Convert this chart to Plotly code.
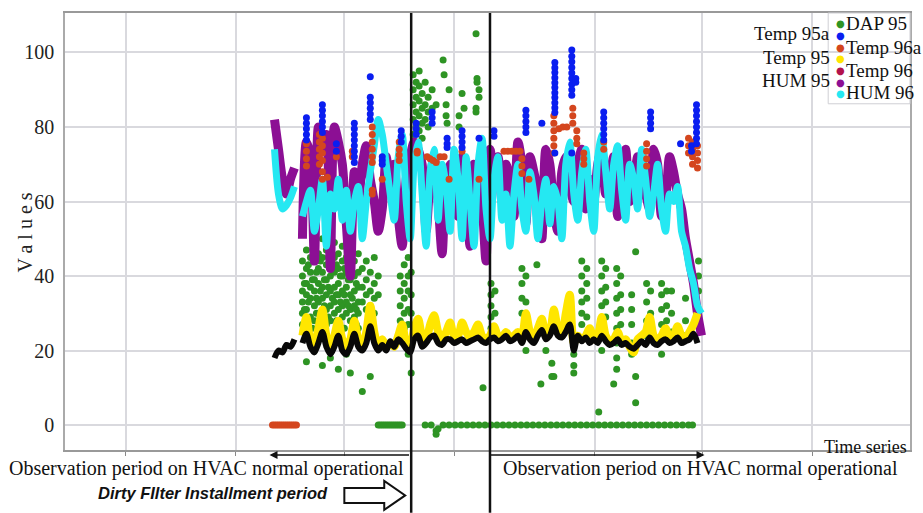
import plotly.graph_objects as go

# ---------------- data (time index, values) ----------------
t_line = list(range(275, 707, 4))  # regular time index of the line series

hum96 = [74, 62, 58, 59, 61, 64, None, 56, 60, 63, 52, 58, 66, 48, 62, 58, 66, 55, 63, 52,
         60, 64, 50, 60, 68, 75, 82, 78, 70, 62, 55, 72, 78, 60, 50, 70, 76, 62, 48, 68,
         74, 55, 70, 64, 52, 74, 66, 50, 72, 60, 48, 70, 77, 58, 50, 66, 72, 55, 62, 48,
         62, 70, 58, 52, 68, 62, 50, 60, 66, 54, 64, 60, 50, 70, 76, 62, 55, 68, 74, 60,
         52, 72, 78, 68, 58, 70, 75, 63, 55, 70, 66, 58, 74, 66, 56, 62, 70, 58, 52, 62,
         60, 64, 52, 48, 42, 38, 32, 30]

hum95 = [82, 74, 66, 62, 66, 69, None, 50, 76, 72, 44, 80, 74, 78, 42, 80, 76, 70, 54, 40,
         68, 60, 70, 75, 66, 60, 52, 58, 72, 64, 70, 56, 48, 66, 72, 76, 74, 70, 52, 66,
         72, 60, 46, 66, 70, 62, 56, 72, 64, 48, 70, 68, 60, 44, 74, 68, 72, 60, 70, 66,
         56, 76, 70, 54, 72, 68, 62, 50, 74, 70, 58, 52, 68, 72, 64, 60, 70, 74, 58, 66,
         60, 70, 74, 62, 66, 72, 56, 68, 74, 60, 64, 72, 66, 62, 58, 74, 70, 56, 60, 72,
         68, 62, 58, 50, 44, 38, 30, 24]

temp95 = [None, None, None, None, None, None, None, 24, 29, 23, 22, 26, 31, 24, 21, 24, 28, 23, 21, 23,
          28, 23, 21, 25, 32, 25, 21, 23, 21, 22, 21, 24, 27, 22, 21, 26, 28.5, 24, 23, 27,
          29.5, 25, 23, 25, 27.5, 24, 24, 27.5, 25, 23.5, 25, 27, 24, 23, 24, 26.5, 24, 23.5, 25, 23.5,
          24, 25, 24, 30, 25, 23, 26, 28.5, 24, 25, 31, 26, 24, 30, 35, 22, 24, 23, 24, 26,
          23, 24, 29, 24, 22.5, 23, 25, 22.5, 23, 21, 19.5, 23, 24, 25, 29, 24, 22.5, 24, 26, 23,
          24, 26.5, 24, 23, 25, 27, 30, None]

temp96 = [18, 20, 19.5, 21.5, 21, 23, None, 22, 24.5, 21, 19.5, 22, 25, 21, 19, 21, 24, 20, 19, 21,
          24.5, 21, 20, 22, 26.5, 22, 20, 21.5, 20, 22.5, 21, 23, 22, 20.5, 19.5, 23, 24, 21, 22, 23.5,
          24, 22, 21.5, 23, 23, 22, 22.5, 23, 22, 22.5, 23, 23.5, 22.5, 22, 23, 23.5, 22.5, 23, 24, 22.5,
          23, 24, 22, 25, 23, 22, 24, 25.5, 23, 24, 26.5, 24, 23.5, 25, 27, 20, 24, 22.5, 23.5, 22,
          23, 22, 24, 22.5, 21.5, 22, 23, 21.5, 22, 21, 20.5, 21.5, 22.5, 21.5, 23.5, 22, 21.5, 22.5, 23, 22,
          22.5, 23.5, 22, 22.5, 23, 24.5, 22, None]

temp95a_stacks = [
    (307, [82.5, 81, 79.5, 78, 76.5]),
    (323, [86, 84.5, 83, 81.5, 80, 78.5]),
    (337, [75.5, 73.5]),
    (355, [81, 79.5, 78, 76.5, 75, 73.5, 72, 70.5]),
    (371, [93.5, 88, 86.5, 85, 83.5, 82]),
    (383, [72, 71, 70]),
    (402, [79, 77.5, 76]),
    (417, [81, 79.5, 78]),
    (433, [84, 82.5, 81]),
    (448, [77, 75.5, 74.5]),
    (463, [79, 77.5, 76, 74.5]),
    (480, [77]),
    (495, [79, 77.5]),
    (527, [84.5, 83, 81.5, 80, 78.5]),
    (543, [81]),
    (556, [97.3, 95.9, 94.6, 93.2, 91.9, 90.6, 89.2, 87.9, 86.5, 85.2, 83.9, 73]),
    (573, [100.7, 99, 97.5, 96, 94.5, 93, 91.5, 90, 88.5, 73]),
    (577, [93, 92]),
    (605, [84, 82.5, 81, 79.5, 78, 76.5]),
    (652, [84, 82.5, 81, 79.5]),
    (682, [75.5]),
    (693, [75, 73.5]),
    (698, [86, 84.5, 83, 81.5, 80, 78.5, 77, 75.5]),
]

temp96a_stacks = [
    (273, [0]), (275, [0]), (277, [0]), (279, [0]), (281, [0]), (283, [0]), (285, [0]),
    (287, [0]), (289, [0]), (291, [0]), (293, [0]), (295, [0]), (297, [0]),
    (307, [75.5, 73.5, 71.5, 69.5]),
    (320, [78, 76, 74, 72, 70]),
    (323, [77, 75, 73, 71, 68, 66]),
    (328, [66.5]),
    (337, [72]),
    (353, [73.5, 72]),
    (373, [80, 78, 76, 74, 72, 70.5, 63, 62]),
    (383, [66]),
    (400, [76, 74, 72.5, 71]),
    (418, [73.5, 73]),
    (428, [72]), (431, [71.5]), (434, [71]), (437, [70.5]), (441, [72]), (445, [72]),
    (450, [66]),
    (463, [73.5]),
    (480, [66]),
    (505, [73.5]), (509, [73.5]), (513, [73.5]), (517, [73.5]), (521, [73.5]),
    (523, [71.5, 69.5, 67.5]),
    (530, [66]),
    (555, [83, 81, 79, 77, 75, 73]),
    (560, [79.5]), (564, [80]), (568, [80]),
    (574, [85, 83, 81]),
    (578, [79, 77, 75.5]),
    (585, [73, 71.5, 70]),
    (605, [76, 74]),
    (648, [75.5, 73.5, 71.5, 69.5]),
    (690, [77, 75, 73]),
    (694, [76, 74, 72, 70]),
    (699, [75, 73, 71, 69]),
]

dap_cluster_left = [
    (303, [44, 40, 36, 33, 30, 27]),
    (305, [38, 31]),
    (307, [47, 42, 38, 35, 31, 26, 17]),
    (309, [43, 33]),
    (311, [45, 41, 37, 34, 29]),
    (313, [39, 26]),
    (315, [48, 44, 39, 36, 32, 28, 20]),
    (317, [41, 34, 30]),
    (319, [46, 42, 38, 33, 30]),
    (321, [44, 36, 27]),
    (323, [50, 45, 41, 37, 34, 29, 16]),
    (325, [39, 32]),
    (327, [47, 43, 39, 35, 31, 27]),
    (329, [45, 37, 29]),
    (331, [44, 40, 36, 32, 28, 18]),
    (333, [42, 34]),
    (335, [49, 45, 41, 37, 33, 30]),
    (337, [43, 35, 28]),
    (339, [46, 42, 38, 35, 31, 27, 15]),
    (341, [40, 33]),
    (343, [48, 44, 40, 36, 32, 29]),
    (345, [42, 35, 26]),
    (347, [45, 41, 37, 33, 30, 19]),
    (349, [39, 32]),
    (351, [47, 43, 39, 35, 31, 28, 14]),
    (353, [41, 34]),
    (355, [44, 40, 36, 32, 29]),
    (357, [38, 31, 27]),
    (359, [46, 41, 37, 33, 30, 26]),
    (363, [42, 37, 33, 9]),
    (367, [44, 39, 35, 31]),
    (371, [41, 36, 32, 13]),
    (375, [45, 38, 34, 30]),
    (379, [40, 35]),
    (401, [40, 36, 32, 28]),
    (405, [43, 38, 34, 30, 26]),
    (409, [45, 40, 36, 31, 27, 19]),
    (412, [41, 35, 30, 14]),
]

dap_cluster_dirty = [
    (414, [94, 90, 86, 82, 78]),
    (417, [92, 88, 84, 80, 76]),
    (420, [95, 91, 87, 83, 79]),
    (423, [89, 85, 81, 77]),
    (426, [92, 86, 82]),
    (429, [88, 84, 80]),
    (433, [90, 85]),
    (437, [86]),
    (444, [98]), (445, [94]), (447, [86, 83]), (448, [81]), (450, [90]),
    (460, [83, 80]), (463, [89]), (465, [85]),
    (477, [105, 85, 84]), (478, [93, 92]), (480, [90, 88]),
    (484, [10]),
]

dap_cluster_right = [
    (492, [38, 35, 32, 29, 26]),
    (496, [36, 30, 24]),
    (523, [42, 38, 34, 30]),
    (527, [40, 33, 20]),
    (538, [43]), (542, [11]), (547, [20]), (553, [16.6, 13]), (555, [13]),
    (575, [22, 19, 16, 14]),
    (583, [44, 40, 36, 33, 30, 27]),
    (588, [42, 38, 34, 29]),
    (600, [3.5]),
    (603, [44, 40, 36, 32, 28, 24, 20]),
    (607, [42, 37, 33, 29]),
    (615, [11]),
    (618, [42, 38, 34, 30, 26, 22, 18, 15]),
    (622, [40, 35, 31, 27, 23]),
    (633, [35, 31, 27, 22, 19]),
    (637, [46.5, 13, 6]),
    (648, [38, 33, 28, 24]),
    (652, [36, 30]),
    (663, [38, 35, 31, 27, 23, 19]),
    (668, [36, 32, 28, 24]),
    (673, [36, 30, 25]),
    (687, [34, 28, 24]),
    (700, [44, 40, 36]),
]

dap_zero_t = [379, 381, 383, 385, 387, 389, 391, 393, 395, 397, 399, 401, 403,
              426, 432, 437, 437, 439, 444, 450, 456, 462, 468, 474, 480, 486, 492, 498, 504,
              510, 516, 522, 528, 534, 540, 546, 552, 558, 564, 570, 576, 582, 588, 594,
              600, 606, 612, 618, 624, 630, 636, 642, 648, 654, 660, 666, 672, 678, 684, 690, 694]
dap_zero_v = [0, 0, 0, 0, 0, 0, 0, 0, 0, 0, 0, 0, 0,
              0, 0, -1.5, -2.5, -1, 0, 0, 0, 0, 0, 0, 0, 0, 0, 0, 0,
              0, 0, 0, 0, 0, 0, 0, 0, 0, 0, 0, 0, 0, 0, 0,
              0, 0, 0, 0, 0, 0, 0, 0, 0, 0, 0, 0, 0, 0, 0, 0, 0]

y_ticks = [0, 20, 40, 60, 80, 100]
grid_t = [126, 236, 345, 455, 596, 704, 814]
period_bounds = [412, 491]

assert len(hum96) == len(t_line) and len(hum95) == len(t_line)
assert len(temp95) == len(t_line) and len(temp96) == len(t_line)
assert len(dap_zero_t) == len(dap_zero_v)


def flatten(stacks):
    xs, ys = [], []
    for t, vals in stacks:
        for v in vals:
            xs.append(t)
            ys.append(v)
    return xs, ys


dap_t, dap_v = flatten(dap_cluster_left + dap_cluster_dirty + dap_cluster_right)
dap_t += dap_zero_t
dap_v += dap_zero_v
t95a_t, t95a_v = flatten(temp95a_stacks)
t96a_t, t96a_v = flatten(temp96a_stacks)

C_GREEN = "#2e9424"
C_BLUE = "#0a1ef0"
C_RED = "#d4461e"
C_YELLOW = "#ffe600"
C_CRIMSON = "#b3124c"
C_PURPLE = "#8c0f94"
C_CYAN = "#25e8f2"
C_BLACK = "#080808"

fig = go.Figure()
fig.add_trace(go.Scatter(x=dap_t, y=dap_v, mode="markers", name="DAP 95",
                         marker=dict(color=C_GREEN, size=7)))
fig.add_trace(go.Scatter(x=t_line, y=hum95, mode="lines", name="HUM 95",
                         line=dict(color=C_PURPLE, width=9, shape="spline", smoothing=0.8)))
fig.add_trace(go.Scatter(x=t_line, y=hum96, mode="lines", name="HUM 96",
                         line=dict(color=C_CYAN, width=7, shape="spline", smoothing=0.8)))
fig.add_trace(go.Scatter(x=t96a_t, y=t96a_v, mode="markers", name="Temp 96a",
                         marker=dict(color=C_RED, size=7)))
fig.add_trace(go.Scatter(x=t95a_t, y=t95a_v, mode="markers", name="Temp 95a",
                         marker=dict(color=C_BLUE, size=7)))
fig.add_trace(go.Scatter(x=t_line, y=temp95, mode="lines", name="Temp 95",
                         line=dict(color=C_YELLOW, width=8, shape="spline", smoothing=0.8)))
fig.add_trace(go.Scatter(x=t_line, y=temp96, mode="lines", name="Temp 96",
                         line=dict(color=C_BLACK, width=6, shape="spline", smoothing=0.8)))

W, H = 923, 513
ML, MR, MT, MB = 65, 11, 12, 63
PW, PH = W - ML - MR, H - MT - MB


def X(px):
    return (px - ML) / PW


def Y(py):
    return (H - MB - py) / PH


serif = "Liberation Serif"
ann = []
# legend (custom, labels on both sides of a dot column)
legend_items = [
    ("DAP 95", C_GREEN, "right", 23, 23),
    ("Temp 95a", C_BLUE, "left", 35, 33),
    ("Temp 96a", C_RED, "right", 47, 47),
    ("Temp 95", C_YELLOW, "left", 58, 57),
    ("Temp 96", C_CRIMSON, "right", 70, 70),
    ("HUM 95", C_PURPLE, "left", 82, 80),
    ("HUM 96", C_CYAN, "right", 93, 92),
]
for label, col, side, dot_y, txt_y in legend_items:
    ann.append(dict(x=X(842), y=Y(dot_y), xref="paper", yref="paper", text="●", showarrow=False,
                    font=dict(family="DejaVu Sans", size=10, color=col), xanchor="center", yanchor="middle"))
    if side == "right":
        ann.append(dict(x=X(846), y=Y(txt_y), xref="paper", yref="paper", text=label, showarrow=False,
                        font=dict(family=serif, size=19, color="#111"), xanchor="left", yanchor="middle"))
    else:
        ann.append(dict(x=X(834), y=Y(txt_y), xref="paper", yref="paper", text=label, showarrow=False,
                        font=dict(family=serif, size=19, color="#111"), xanchor="right", yanchor="middle"))

ann += [
    dict(x=X(25), y=Y(232), xref="paper", yref="paper", text="V a l u e s", textangle=-90,
         showarrow=False, font=dict(family=serif, size=20, color="#222"), xanchor="center", yanchor="middle"),
    dict(x=X(911), y=Y(447), xref="paper", yref="paper", text="Time series", showarrow=False,
         font=dict(family=serif, size=18, color="#111"), xanchor="right", yanchor="middle"),
    dict(x=X(7), y=Y(469), xref="paper", yref="paper", text="Observation period on HVAC normal operational",
         showarrow=False, font=dict(family=serif, size=20, color="#111"), xanchor="left", yanchor="middle"),
    dict(x=X(502), y=Y(469), xref="paper", yref="paper", text="Observation period on HVAC normal operational",
         showarrow=False, font=dict(family=serif, size=20, color="#111"), xanchor="left", yanchor="middle"),
    dict(x=X(96), y=Y(493), xref="paper", yref="paper", text="<b><i>Dirty FIlter Installment period</i></b>",
         showarrow=False, font=dict(family="Liberation Sans", size=16.5, color="#111"), xanchor="left", yanchor="middle"),
    dict(x=X(270), y=Y(455), xref="paper", yref="paper", text="", showarrow=True, ax=141, ay=0,
         arrowhead=2, arrowsize=1, arrowwidth=1.6, arrowcolor="#111"),
    dict(x=X(706), y=Y(455), xref="paper", yref="paper", text="", showarrow=True, ax=-215, ay=0,
         arrowhead=2, arrowsize=1, arrowwidth=1.6, arrowcolor="#111"),
]

shapes = []
for b in period_bounds:
    shapes.append(dict(type="line", xref="x", yref="paper", x0=b, x1=b, y0=1, y1=Y(H),
                       line=dict(color="#111", width=2.5)))
# legend box
shapes.append(dict(type="rect", xref="paper", yref="paper", x0=X(830), x1=1, y0=Y(103), y1=1,
                   line=dict(color="#cfcfd4", width=1), fillcolor="rgba(0,0,0,0)"))
# hollow block arrow
pts = [(345, 488), (385, 488), (385, 481), (406, 495.5), (385, 510), (385, 503), (345, 503)]
path = "M " + " L ".join(f"{X(a):.5f},{Y(b):.5f}" for a, b in pts) + " Z"
shapes.append(dict(type="path", xref="paper", yref="paper", path=path,
                   line=dict(color="#111", width=2), fillcolor="white"))

fig.update_layout(
    width=W, height=H,
    margin=dict(l=ML, r=MR, t=MT, b=MB),
    paper_bgcolor="white", plot_bgcolor="white",
    showlegend=False,
    annotations=ann, shapes=shapes,
    xaxis=dict(range=[ML, W - MR], tickvals=grid_t, showticklabels=False, showgrid=True,
               gridcolor="#d9d9de", gridwidth=1.5, ticks="outside", ticklen=4, tickcolor="#888",
               showline=True, linecolor="#999", linewidth=1.5, mirror=True, zeroline=False),
    yaxis=dict(range=[-6.7, 110.6], tickvals=y_ticks, showgrid=True, gridcolor="#d9d9de", gridwidth=1.5,
               ticks="", ticklabelstandoff=5, tickfont=dict(family=serif, size=20, color="#222"),
               showline=True, linecolor="#aaa", linewidth=1.5, mirror=True, zeroline=False),
)

fig.write_html(
    "out.html",
    config={"displayModeBar": False},
    post_script="document.body.style.margin='0';document.body.style.overflow='hidden';",
)
